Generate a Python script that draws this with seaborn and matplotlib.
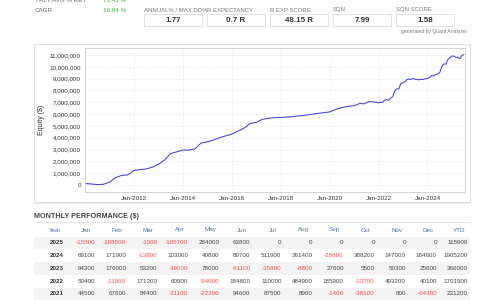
import pandas as pd
import seaborn as sns
import matplotlib
matplotlib.use("Agg")
from matplotlib import pyplot as plt
import matplotlib.dates as mdates
from matplotlib.patches import Rectangle
from matplotlib.ticker import FuncFormatter

# 顶部统计
summary_labels = ["YRLY AVG % RET", "CAGR"]
summary_values = ["71.41 %", "16.84 %"]
metric_labels = ["ANNUAL% / MAX DD%", "R EXPECTANCY", "R EXP SCORE", "SQN", "SQN SCORE"]
metric_values = ["1.77", "0.7 R", "48.15 R", "7.99", "1.58"]

# 2010-2020 资金曲线 (季度, 从图上读)
early_equity = [120000, 80000, 30000, 50000, 220000, 620000, 800000, 850000,
                1220000, 1300000, 1350000, 1500000, 1750000, 2100000, 2650000, 2800000,
                2950000, 2950000, 3050000, 3550000, 3650000, 3800000, 4000000, 4150000,
                4300000, 4550000, 4800000, 5200000, 5300000, 5550000, 5650000, 5700000,
                5720000, 5750000, 5780000, 5850000, 5900000, 5980000, 6050000, 6120000,
                6180000, 6400000, 6550000, 6650000]
start_2021 = 6720000

# 月度表现表格
month_names = ["Jan", "Feb", "Mar", "Apr", "May", "Jun", "Jul", "Aug", "Sep", "Oct", "Nov", "Dec"]
years = [2025, 2024, 2023, 2022, 2021]
perf = {
    2025: [-15500, -108800, -1900, -105700, 284000, 63800, 0, 0, 0, 0, 0, 0],
    2024: [69100, 171900, -13800, 103000, 40800, 89700, 511900, 261400, -28600, 388200, 147000, 164600],
    2023: [94300, 176000, 53200, -39000, 78000, -61100, -35600, -8800, 27600, 5500, 50300, 25600],
    2022: [50400, -11900, 171300, 60900, -54000, 184800, 110000, 484900, 185900, -13700, 493200, 40100],
    2021: [44500, 67600, 84400, -31100, -22200, 94600, 87500, 8900, -1400, -38100, 800, -64300],
}
ytd = [115900, 1905200, 366000, 1701900, 231200]

# 拼资金曲线: 2021以后用月度表现累加, 2025只到6月
early_dates = pd.date_range("2010-01-01", periods=len(early_equity), freq="QS")
late_dates = [pd.Timestamp("2021-01-01")]
late_equity = [start_2021]
for y in [2021, 2022, 2023, 2024, 2025]:
    n = 6 if y == 2025 else 12
    for m in range(n):
        late_dates.append(pd.Timestamp(year=y, month=m + 1, day=1) + pd.offsets.MonthEnd(0))
        late_equity.append(late_equity[-1] + perf[y][m])
eq = pd.DataFrame({"date": list(early_dates) + late_dates,
                   "equity": early_equity + late_equity})

sns.set_style("whitegrid")
plt.rcParams['font.family'] = ['Liberation Sans', 'DejaVu Sans']

fig = plt.figure(figsize=(4.8, 3.0), dpi=100)

def fx(px):
    return px / 480

def fy(py):
    return 1 - py / 300

def box(x0, y_bottom, w, h, **kw):
    fig.patches.append(Rectangle((fx(x0), fy(y_bottom)), fx(w), h / 300,
                                 transform=fig.transFigure, zorder=-10, **kw))

# 顶部文字
for i, (lab, val) in enumerate(zip(summary_labels, summary_values)):
    y = 1 + i * 9
    fig.text(fx(35), fy(y), lab, fontsize=4.5, color='#666', va='center')
    fig.text(fx(103), fy(y), val, fontsize=4.5, color='#3cb043', va='center')

for i, (lab, val) in enumerate(zip(metric_labels, metric_values)):
    x0 = 144 + i * 63
    fig.text(fx(x0), fy(10), lab, fontsize=4.3, color='#777', va='center')
    box(x0, 26, 58, 12, facecolor='white', edgecolor='#dddddd', linewidth=0.6)
    fig.text(fx(x0 + 29), fy(20), val, fontsize=5.8, color='#333', weight='bold', ha='center', va='center')
fig.text(fx(467), fy(32), "generated by Quant Analyzer", fontsize=3.6, color='#777', ha='right', va='center')

# 图表外框
box(35, 203.5, 436, 158, facecolor='#eaeaea', edgecolor='none')
box(34, 202, 436, 158, facecolor='white', edgecolor='#dddddd', linewidth=0.6)

ax = fig.add_axes([fx(85), fy(192), fx(380), 144 / 300])
sns.lineplot(data=eq, x='date', y='equity', color='#4040dd', linewidth=0.75, ax=ax)
ax.set_xlim(pd.Timestamp("2010-01-01"), pd.Timestamp("2025-07-15"))
ax.set_ylim(-600000, 11600000)
ax.set_yticks(range(0, 11000001, 1000000))
ax.yaxis.set_major_formatter(FuncFormatter(lambda v, p: f"{v:,.0f}"))
ax.set_xticks([pd.Timestamp(f"{y}-01-01") for y in range(2012, 2025, 2)])
ax.xaxis.set_major_formatter(mdates.DateFormatter("Jan-%Y"))
ax.tick_params(labelsize=4.5, length=0, pad=3, colors='#333')
ax.grid(color='#e2e2e2', linestyle=':', linewidth=0.6)
for s in ax.spines.values():
    s.set_color('#cccccc')
    s.set_linewidth(0.6)
ax.set_xlabel("")
ax.set_ylabel("Equity ($)", fontsize=5, color='#333')
ax.yaxis.set_label_coords(-0.105, 0.5)

# 表格
fig.text(fx(34), fy(216), "MONTHLY PERFORMANCE ($)", fontsize=5.2, color='#444', weight='bold', va='center')
fig.lines.append(plt.Line2D([fx(34), fx(470)], [fy(222), fy(222)], transform=fig.transFigure,
                            color='#e0e0e0', linewidth=0.6))
col_x = [64 + 31.08 * i for i in range(14)]
headers = ["Year"] + month_names + ["YTD"]
for x, h in zip(col_x, headers):
    fig.text(fx(x - 9), fy(230), h, fontsize=4.5, color='#4a6fa5', ha='center', va='center')
for r, (yr, tot) in enumerate(zip(years, ytd)):
    yrow = 243 + r * 12.7
    if r % 2 == 0:
        box(34, yrow + 6.3, 436, 12.6, facecolor='#f3f3f3', edgecolor='none')
    fig.text(fx(col_x[0]), fy(yrow), str(yr), fontsize=4.5, color='#333', weight='bold', ha='right', va='center')
    for c, v in enumerate(perf[yr] + [tot]):
        fig.text(fx(col_x[c + 1]), fy(yrow), str(v), fontsize=4.5,
                 color='#ff4d4d' if v < 0 else '#444', ha='right', va='center')

fig.savefig("out.png", dpi=100)
